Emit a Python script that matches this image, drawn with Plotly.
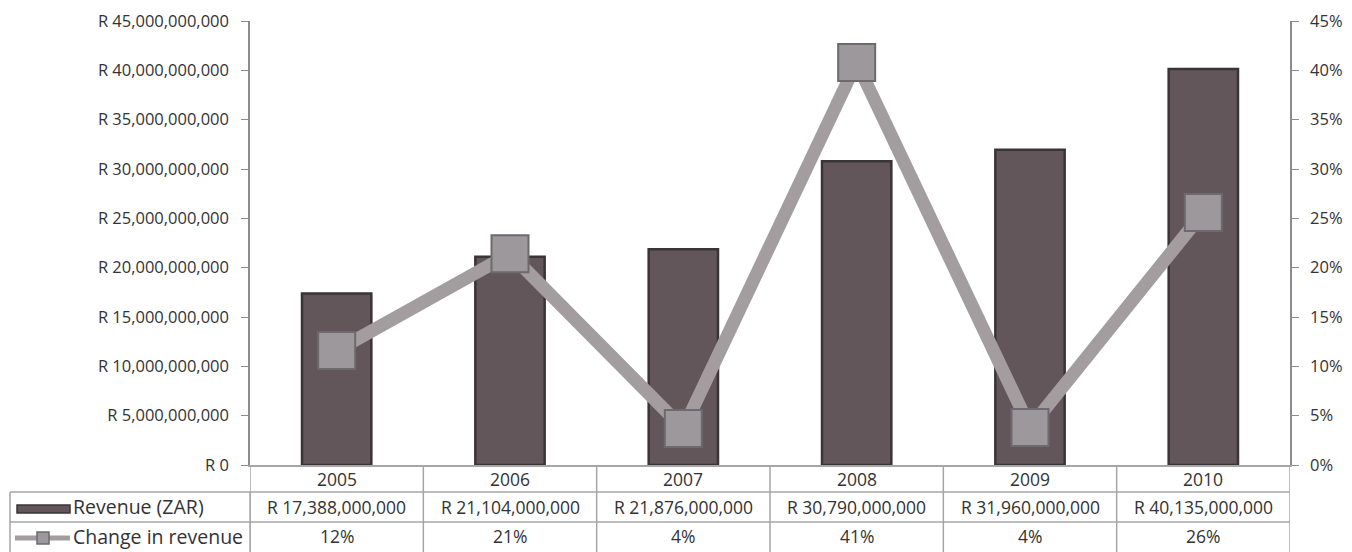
import plotly.graph_objects as go

years = ["2005", "2006", "2007", "2008", "2009", "2010"]
revenue = [17388000000, 21104000000, 21876000000, 30790000000, 31960000000, 40135000000]
change = [0.116, 0.214, 0.037, 0.408, 0.038, 0.256]
revenue_labels = ["R 17,388,000,000", "R 21,104,000,000", "R 21,876,000,000",
                  "R 30,790,000,000", "R 31,960,000,000", "R 40,135,000,000"]
change_labels = ["12%", "21%", "4%", "41%", "4%", "26%"]
left_ticks = [0, 5e9, 10e9, 15e9, 20e9, 25e9, 30e9, 35e9, 40e9, 45e9]
left_ticktext = ["R 0", "R 5,000,000,000", "R 10,000,000,000", "R 15,000,000,000",
                 "R 20,000,000,000", "R 25,000,000,000", "R 30,000,000,000",
                 "R 35,000,000,000", "R 40,000,000,000", "R 45,000,000,000"]
right_ticks = [0, 0.05, 0.10, 0.15, 0.20, 0.25, 0.30, 0.35, 0.40, 0.45]
right_ticktext = ["0%", "5%", "10%", "15%", "20%", "25%", "30%", "35%", "40%", "45%"]
series_names = ["Revenue (ZAR)", "Change in revenue"]

W, H = 1352, 552
L, R, T, B = 250, 62, 21, 87
plot_h = H - T - B
plot_w = W - L - R

def py(y):
    return (H - B - y) / plot_h

def px(x):
    return (x - L) / plot_w

FONT = "'Open Sans', 'DejaVu Sans', sans-serif"
GRID = "#a6a6a6"
TXT = "#333333"
xs = list(range(len(years)))

fig = go.Figure()
fig.add_trace(go.Bar(
    x=xs, y=revenue, width=0.4, name=series_names[0],
    marker=dict(color="#62565b", line=dict(color="#3b3437", width=2.5)),
    yaxis="y", showlegend=False,
))
fig.add_trace(go.Scatter(
    x=xs, y=change, name=series_names[1], mode="lines+markers",
    line=dict(color="#a39d9f", width=13),
    marker=dict(symbol="square", size=37, color="#9c989b",
                line=dict(color="#6e6a6c", width=2)),
    yaxis="y2", showlegend=False,
))

shapes = []
line_style = dict(color=GRID, width=1.5)
y_top, y1, y2, y3 = 465, 492, 522, 552
for i in range(len(years) + 1):
    xb = i - 0.5
    shapes.append(dict(type="line", xref="x", yref="paper", x0=xb, x1=xb,
                       y0=py(y_top), y1=py(y3), line=line_style))
for xv in (10, 250):
    shapes.append(dict(type="line", xref="paper", yref="paper", x0=px(xv), x1=px(xv),
                       y0=py(y1), y1=py(y3), line=line_style))
for yv in (y1, y2):
    shapes.append(dict(type="line", xref="paper", yref="paper", x0=px(10), x1=1,
                       y0=py(yv), y1=py(yv), line=line_style))
# legend key: bar
shapes.append(dict(type="rect", xref="paper", yref="paper", x0=px(17), x1=px(70),
                   y0=py(513), y1=py(505), fillcolor="#62565b",
                   line=dict(color="#3b3437", width=1.5)))
# legend key: line with marker
shapes.append(dict(type="line", xref="paper", yref="paper", x0=px(15), x1=px(70),
                   y0=py(538), y1=py(538), line=dict(color="#a39d9f", width=5)))
shapes.append(dict(type="rect", xref="paper", yref="paper", x0=px(37), x1=px(49),
                   y0=py(544), y1=py(532), fillcolor="#9c989b",
                   line=dict(color="#6e6a6c", width=1.5)))

annotations = []
tfont = dict(family=FONT, size=17.5, color=TXT)
for i, yr in enumerate(years):
    annotations.append(dict(x=i, y=py((y_top + y1) / 2), xref="x", yref="paper", text=yr,
                            showarrow=False, font=tfont, xanchor="center", yanchor="middle"))
    annotations.append(dict(x=i, y=py((y1 + y2) / 2), xref="x", yref="paper",
                            text=revenue_labels[i], showarrow=False, font=tfont,
                            xanchor="center", yanchor="middle"))
    annotations.append(dict(x=i, y=py((y2 + y3) / 2 - 1), xref="x", yref="paper",
                            text=change_labels[i], showarrow=False, font=tfont,
                            xanchor="center", yanchor="middle"))
lfont = dict(family=FONT, size=19.5, color=TXT)
annotations.append(dict(x=px(71), y=py((y1 + y2) / 2), xref="paper", yref="paper",
                        text=series_names[0], showarrow=False, font=lfont,
                        xanchor="left", yanchor="middle"))
annotations.append(dict(x=px(71), y=py((y2 + y3) / 2 - 1), xref="paper", yref="paper",
                        text=series_names[1], showarrow=False, font=lfont,
                        xanchor="left", yanchor="middle"))

axfont = dict(family=FONT, size=16.5, color=TXT)
fig.update_layout(
    width=W, height=H,
    margin=dict(l=L, r=R, t=T, b=B, pad=0),
    plot_bgcolor="white", paper_bgcolor="white",
    xaxis=dict(range=[-0.5, len(years) - 0.5], showticklabels=False, showgrid=False,
               zeroline=False, showline=True, linecolor=GRID, linewidth=1.5, ticks=""),
    yaxis=dict(range=[0, 45e9], tickvals=left_ticks, ticktext=left_ticktext,
               showgrid=False, zeroline=False, showline=True, linecolor="#8c8c8c",
               linewidth=1.5, ticks="outside", ticklen=7, tickcolor="#8c8c8c",
               tickfont=axfont, automargin=False, ticklabelstandoff=9),
    yaxis2=dict(range=[0, 0.45], tickvals=right_ticks, ticktext=right_ticktext,
                overlaying="y", side="right", showgrid=False, zeroline=False,
                showline=True, linecolor="#8c8c8c", linewidth=1.5, ticks="outside",
                ticklen=7, tickcolor="#8c8c8c", tickfont=axfont, automargin=False,
                ticklabelstandoff=8),
    shapes=shapes, annotations=annotations,
)

fig.write_html("out.html", config={"displayModeBar": False},
               post_script="document.body.style.margin='0';document.body.style.overflow='hidden';")
